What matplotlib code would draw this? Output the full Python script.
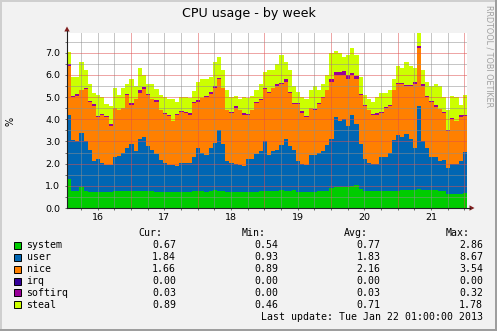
import numpy as np
import pandas as pd
import matplotlib
matplotlib.use("Agg")
import matplotlib.pyplot as plt
import matplotlib.dates as mdates
import matplotlib.transforms as mtransforms
from matplotlib.patches import Rectangle, Polygon
from matplotlib.lines import Line2D
from matplotlib.ticker import MultipleLocator, NullFormatter, FuncFormatter

W, H = 497, 331

# 90-minute samples, Jan 16 01:00 .. Jan 22 01:00
times = pd.date_range("2013-01-16 01:00", periods=96, freq="90min")

system = [1.30, 0.75, 0.75, 0.95, 0.75, 0.72, 0.72, 0.72, 0.72, 0.72, 0.72, 0.75, 0.75, 0.75, 0.75, 0.75,
          0.75, 0.75, 0.78, 0.75, 0.75, 0.72, 0.72, 0.72, 0.72, 0.70, 0.72, 0.72, 0.72, 0.72, 0.75, 0.75,
          0.75, 0.72, 0.75, 0.80, 0.78, 0.75, 0.72, 0.72, 0.72, 0.70, 0.72, 0.72, 0.72, 0.72, 0.75, 0.75,
          0.75, 0.78, 0.75, 0.80, 0.78, 0.75, 0.80, 0.72, 0.72, 0.72, 0.72, 0.72, 0.75, 0.75, 0.75, 0.88,
          0.95, 0.95, 0.95, 0.95, 1.00, 1.05, 0.85, 0.75, 0.75, 0.75, 0.75, 0.75, 0.75, 0.75, 0.75, 0.78,
          0.80, 0.80, 0.80, 0.80, 0.85, 0.80, 0.80, 0.80, 0.80, 0.78, 0.78, 0.65, 0.65, 0.65, 0.65, 0.67]

user = [2.90, 2.30, 2.25, 2.45, 2.25, 1.88, 1.38, 1.48, 1.33, 1.23, 1.23, 1.55, 1.60, 1.75, 1.95, 2.15,
        1.80, 2.35, 2.42, 2.05, 1.85, 1.73, 1.43, 1.33, 1.23, 1.25, 1.18, 1.33, 1.33, 1.33, 1.55, 1.95,
        1.75, 1.68, 1.95, 2.15, 2.72, 2.15, 1.38, 1.33, 1.28, 1.25, 1.18, 1.48, 1.48, 1.73, 1.80, 2.25,
        1.65, 1.77, 1.85, 2.05, 2.32, 2.05, 1.80, 1.38, 1.28, 1.23, 1.68, 1.68, 1.75, 1.80, 2.10, 2.22,
        3.15, 2.95, 3.05, 2.75, 3.20, 2.75, 2.05, 1.45, 1.30, 1.25, 1.25, 1.55, 1.55, 1.75, 2.30, 2.52,
        2.40, 2.55, 2.30, 1.90, 3.75, 2.20, 1.90, 1.50, 1.50, 1.32, 1.37, 1.15, 1.35, 1.35, 1.45, 1.84]

nice = [2.20, 1.95, 2.05, 1.90, 2.35, 2.20, 2.50, 1.90, 2.15, 2.15, 1.75, 2.20, 2.05, 2.00, 2.40, 1.75,
        2.35, 2.10, 2.15, 2.30, 2.30, 2.35, 2.25, 2.20, 2.20, 1.95, 2.30, 2.30, 2.25, 2.15, 2.45, 2.10,
        2.45, 2.60, 2.45, 2.45, 2.30, 2.50, 2.30, 2.25, 2.50, 2.45, 2.30, 2.00, 2.20, 2.30, 2.30, 2.35,
        2.80, 2.85, 2.90, 2.75, 2.60, 2.40, 2.10, 2.60, 2.30, 2.15, 2.10, 2.00, 2.20, 2.40, 2.45, 2.60,
        1.90, 2.10, 2.00, 2.10, 1.80, 2.00, 2.20, 2.40, 2.35, 2.20, 2.20, 2.00, 2.20, 2.10, 2.25, 2.30,
        2.40, 2.15, 2.40, 2.90, 2.60, 2.50, 2.30, 2.50, 2.25, 2.35, 2.15, 1.65, 2.00, 1.90, 2.00, 1.66]

irq = [0.0] * 96

softirq = [0.10, 0.03, 0.08, 0.03, 0.05, 0.03, 0.08, 0.03, 0.03, 0.03, 0.10, 0.03, 0.03, 0.03, 0.03, 0.08,
           0.03, 0.12, 0.12, 0.03, 0.03, 0.08, 0.03, 0.03, 0.03, 0.03, 0.03, 0.03, 0.03, 0.08, 0.03, 0.08,
           0.03, 0.05, 0.08, 0.10, 0.05, 0.03, 0.03, 0.03, 0.08, 0.03, 0.08, 0.03, 0.03, 0.03, 0.05, 0.08,
           0.03, 0.03, 0.08, 0.05, 0.10, 0.05, 0.03, 0.03, 0.08, 0.03, 0.03, 0.05, 0.03, 0.05, 0.03, 0.10,
           0.12, 0.15, 0.18, 0.20, 0.10, 0.15, 0.05, 0.03, 0.03, 0.03, 0.08, 0.03, 0.05, 0.03, 0.03, 0.05,
           0.03, 0.05, 0.03, 0.08, 0.12, 0.10, 0.05, 0.03, 0.08, 0.03, 0.05, 0.05, 0.08, 0.03, 0.08, 0.03]

steal = [0.55, 0.87, 0.77, 1.27, 0.80, 0.77, 0.52, 0.97, 0.77, 0.57, 0.80, 0.87, 0.67, 0.87, 0.47, 1.07,
         0.57, 0.98, 0.53, 0.47, 0.67, 0.50, 0.67, 0.72, 0.72, 0.97, 0.57, 0.62, 0.67, 0.67, 0.48, 0.82,
         0.82, 0.75, 0.67, 1.10, 0.95, 0.77, 0.87, 0.67, 0.48, 0.47, 0.72, 0.72, 0.62, 0.52, 0.70, 0.72,
         0.97, 0.77, 0.92, 1.25, 0.80, 0.95, 0.77, 0.48, 0.62, 0.77, 0.77, 1.05, 0.57, 0.60, 0.67, 1.20,
         0.98, 0.85, 0.62, 0.90, 1.10, 0.95, 0.75, 0.48, 0.48, 0.57, 0.72, 0.87, 0.65, 0.67, 0.50, 0.75,
         0.67, 1.05, 0.87, 0.62, 0.58, 0.60, 0.65, 0.67, 0.97, 1.02, 0.65, 0.90, 0.97, 1.07, 0.48, 0.89]

series_names = ["system", "user", "nice", "irq", "softirq", "steal"]
series_values = [system, user, nice, irq, softirq, steal]
series_colors = ["#00CC00", "#0066B3", "#FF8000", "#330099", "#990099", "#CCFF00"]

stat_cur = ["0.67", "1.84", "1.66", "0.00", "0.03", "0.89"]
stat_min = ["0.54", "0.93", "0.89", "0.00", "0.00", "0.46"]
stat_avg = ["0.77", "1.83", "2.16", "0.00", "0.03", "0.71"]
stat_max = ["2.86", "8.67", "3.54", "0.00", "0.32", "1.78"]

title = "CPU usage - by week"
last_update = "Last update: Tue Jan 22 01:00:00 2013"

# ---------------------------------------------------------------------------
BACK = "#F2F2F2"
fig = plt.figure(figsize=(W / 100, H / 100), dpi=100, facecolor=BACK)
# pixel coordinates measured from the top-left corner of the image
pix = mtransforms.Affine2D().scale(1 / W, -1 / H).translate(0, 1) + fig.transFigure

# 3D-ish frame shading
fig.add_artist(Rectangle((0, 0), W, 2, transform=pix, color="#CFCFCF", lw=0))
fig.add_artist(Rectangle((0, 0), 2, H, transform=pix, color="#CFCFCF", lw=0))
fig.add_artist(Rectangle((0, H - 2), W, 2, transform=pix, color="#9E9E9E", lw=0))
fig.add_artist(Rectangle((W - 2, 0), 2, H, transform=pix, color="#9E9E9E", lw=0))

PX0, PY0, PW, PH = 67, 208, 400, 175
ax = fig.add_axes([PX0 / W, 1 - PY0 / H, PW / W, PH / H])
ax.set_facecolor("white")
for s in ax.spines.values():
    s.set_visible(False)

t0 = mdates.date2num(times[0])
step = 1.5 / 24
edges = np.append(mdates.date2num(times), t0 + len(times) * step)

bottom = np.zeros(len(times))
for vals, color in zip(series_values, series_colors):
    vals = np.asarray(vals, dtype=float)
    top = bottom + vals
    ax.fill_between(edges, np.append(bottom, bottom[-1]), np.append(top, top[-1]),
                    step="post", color=color, lw=0, zorder=1)
    bottom = top

ax.set_xlim(t0, t0 + 6.0)
ax.set_ylim(0, 7.89)

# grid drawn over the data
ax.set_axisbelow(False)
ax.yaxis.set_major_locator(MultipleLocator(1.0))
ax.yaxis.set_minor_locator(MultipleLocator(0.5))
ax.yaxis.set_major_formatter(FuncFormatter(lambda v, p: f"{v:.1f}"))
ax.xaxis.set_major_locator(mdates.HourLocator(byhour=[0]))
ax.xaxis.set_minor_locator(mdates.HourLocator(byhour=[0, 6, 12, 18]))
ax.xaxis.set_major_formatter(NullFormatter())


def day_label(v, pos):
    d = mdates.num2date(v)
    return str(d.day) if d.hour == 12 else ""


ax.xaxis.set_minor_formatter(FuncFormatter(day_label))

mgrid = (0.87, 0.31, 0.31, 0.55)
grid = (0.56, 0.56, 0.56, 0.55)
ax.grid(which="major", color=mgrid, linestyle=(0, (1, 1)), linewidth=0.72)
ax.grid(which="minor", color=grid, linestyle=(0, (1, 1)), linewidth=0.72)

ax.tick_params(which="both", direction="out", length=1.5, width=0.72, colors="#707070",
               labelcolor="black", labelsize=6.8)
ax.tick_params(axis="y", which="both", pad=3.4)
ax.tick_params(axis="x", which="both", pad=2.0)
ax.tick_params(axis="y", which="minor", labelleft=False)

# axis lines with arrow heads
AXC = (0.12, 0.12, 0.12)
ARC = (0.5, 0.12, 0.12)
fig.add_artist(Line2D([67, 67], [208, 31], transform=pix, color=AXC, lw=0.8))
fig.add_artist(Line2D([67, 470], [208, 208], transform=pix, color=AXC, lw=0.8))
fig.add_artist(Polygon([[67, 26.5], [64.3, 31.5], [69.7, 31.5]], closed=True, transform=pix,
                       color=ARC, lw=0))
fig.add_artist(Polygon([[474.5, 208], [469.5, 205.3], [469.5, 210.7]], closed=True, transform=pix,
                       color=ARC, lw=0))

# title, unit label, watermark
fig.text(248.5 / W, 1 - 14 / H, title, ha="center", va="center", fontsize=9.1,
         family="DejaVu Sans")
fig.text(11 / W, 1 - 121 / H, "%", ha="center", va="center", rotation=90, fontsize=7,
         family="DejaVu Sans")
fig.text(489 / W, 1 - 5 / H, "RRDTOOL / TOBI OETIKER", ha="center", va="top", rotation=-90,
         fontsize=5.8, color="#A0A0A0", family="DejaVu Sans")

# legend table
MONO = dict(family="DejaVu Sans Mono", fontsize=7.1, color="black", va="center")
row0 = 233.4
dy = 11.9
headers = [("Cur:", 162), ("Min:", 266), ("Avg:", 367.5), ("Max:", 470)]
for txt, xr in headers:
    fig.text(xr / W, 1 - row0 / H, txt, ha="right", **MONO)

col_right = [176, 278.5, 380.5, 483]
for i, (name, color) in enumerate(zip(series_names, series_colors)):
    y = row0 + dy * (i + 1)
    fig.add_artist(Rectangle((13.5, y - 3.5), 7, 7, transform=pix, facecolor=color,
                             edgecolor="black", lw=0.7))
    fig.text(26.5 / W, 1 - y / H, name, ha="left", **MONO)
    for col, xr in zip([stat_cur, stat_min, stat_avg, stat_max], col_right):
        fig.text(xr / W, 1 - y / H, col[i], ha="right", **MONO)

fig.text(483 / W, 1 - (row0 + dy * 7) / H, last_update, ha="right", **MONO)

fig.savefig("out.png", dpi=100, facecolor=BACK)
